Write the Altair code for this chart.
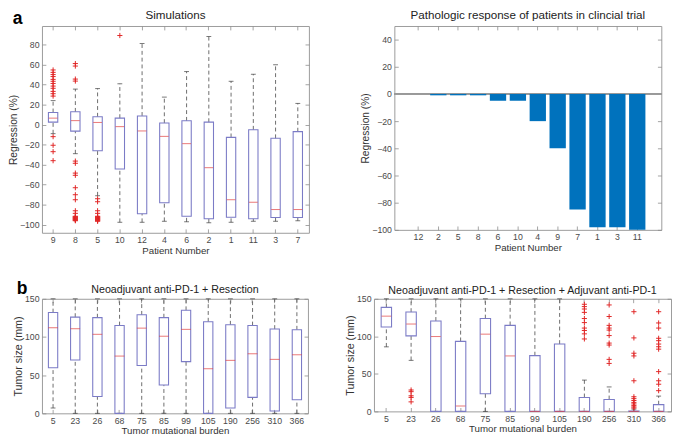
import altair as alt
import pandas as pd

FONT = "Liberation Sans"
BOX = "#7b7bc6"
MED = "#e03a3a"
WHIS = "#5a5a5a"
CAPC = "#3a3a3a"
OUTC = "#e02424"
FRAME = "#9a9a9a"
TICKC = "#8a8a8a"
LBL = "#4a4a4a"
TTL = "#333333"
BAR = "#0072BD"
PLUS = "M-1,0L1,0M0,-1L0,1"

# ---------------- a (left): Simulations ----------------
sim_patients = ["9", "8", "5", "10", "12", "4", "6", "2", "1", "11", "3", "7"]
sim_q1 = [2.5, -6.5, -26, -44.3, -89, -78, -91.5, -94, -92.4, -94, -92.7, -92.7]
sim_med = [6.5, 4.0, 2.2, -2.0, -6.3, -11.7, -19, -43, -75, -77.5, -84.8, -84.8]
sim_q3 = [12.2, 12.8, 7.9, 6.5, 8.7, 1.6, 3.8, 2.5, -12.7, -5.1, -13.6, -7]
sim_lo = [-9, -29, -71, -97.5, -97.5, -96.5, -97, -98, -97.5, -96.5, -96.5, -96]
sim_hi = [24, 35.5, 36, 40.8, 81, 27.5, 53, 88, 43.3, 50.3, 59.8, 21.2]
sim_outliers = {
    "9": [54.6, 52.2, 50, 48, 45.2, 43.3, 41.1, 38.5, 36.3, 33.2, 30.9, 28.5, -12, -20.6, -27, -36],
    "8": [61, 58.5, 45.5, 43.5, -36.4, -38.6, -48.4, -50.6, -63, -70, -75, -86, -88.6,
          -91.5, -92, -92.5, -93, -93.5, -94, -94.5, -95, -95.5, -96],
    "5": [-74, -77, -86, -88.6, -91.5, -92, -92.5, -93, -93.5, -94, -94.5, -95, -95.5, -96, -96.5],
    "10": [89],
}
sim_ticks = [-100, -80, -60, -40, -20, 0, 20, 40, 60, 80]

# ---------------- a (right): clinical trial ----------------
trial_patients = ["12", "2", "5", "8", "6", "10", "4", "9", "7", "1", "3", "11"]
trial_regression = [0, -1, -1, -1, -5, -5, -20, -40, -85, -98, -98, -100]
trial_ticks = [-100, -80, -60, -40, -20, 0, 20, 40]

# ---------------- b: tumor size by mutational burden ----------------
tmb = ["5", "23", "26", "68", "75", "85", "99", "105", "190", "256", "310", "366"]
size_ticks = [0, 50, 100, 150]

neo_q1 = [59.6, 69.9, 22, 0, 62.6, 37, 67.7, 0, 7, 20.9, 3, 17.9]
neo_med = [112, 110.8, 103.5, 75, 111.6, 101, 110, 58.4, 69.4, 78, 70.7, 76.7]
neo_q3 = [132, 126, 125.3, 115, 129, 125.3, 135, 120, 116, 115, 110.4, 109.5]
neo_lo = [7, 0, 0, 0, 0, 0, 0, 0, 0, 0, 0, 0]
neo_hi = [150, 150, 150, 150, 150, 150, 150, 150, 150, 150, 150, 150]
neo_outliers = {}

adj_q1 = [112.4, 100.6, 0, 0, 23.6, 0, 0, 0, 0, 0, 0, 0]
adj_med = [126.9, 116.4, 99.7, 7.2, 102.9, 73.9, 0, 0, 0, 0, 0, 0]
adj_q3 = [138.6, 132.3, 120.5, 93.3, 123.7, 114.6, 74.3, 89.7, 18.6, 15.9, 0.5, 9]
adj_lo = [86, 68, 0, 0, 0, 0, 0, 0, 0, 0, 0, 0]
adj_hi = [150, 150, 150, 150, 150, 150, 150, 150, 41.7, 32.6, 3, 20.4]
adj_outliers = {
    "23": [28.5, 26.3, 20.8, 18.6, 12.7],
    "190": [142.7, 139.6, 136.4, 131.9, 123.7, 118.3, 111, 107.8, 103.3, 96.5],
    "256": [141.8, 126.4, 114.6, 111, 108.3, 101, 91, 88.4, 69.3, 63.9],
    "310": [132.8, 97.9, 77.5, 73.9, 40.8, 19.5, 17, 14.5, 12, 10, 8, 6, 4.5],
    "366": [132.8, 117.8, 111, 97.4, 94.2, 89.7, 86.1, 82.9, 53, 40.8, 36.2, 27.6],
}


def ax(orient, title=None, labels=True, values=None, tsize=10):
    kw = dict(orient=orient, domain=False, grid=False, ticks=True, tickSize=4, offset=-4,
              tickColor=TICKC, tickWidth=0.8, labels=labels, labelColor=LBL, labelFont=FONT,
              labelFontSize=9, labelPadding=3, labelAngle=0, minExtent=0,
              titleColor=TTL, titleFont=FONT, titleFontSize=tsize, titleFontWeight="normal",
              titlePadding=1, title=title)
    if values is not None:
        kw["values"] = values
    return alt.Axis(**kw)


def text_layer(txt, x, y, size, bold=False, align="center"):
    # y is the top of the text box
    return alt.Chart(pd.DataFrame({"t": [txt]})).mark_text(
        text=txt, font=FONT, fontSize=size, fontWeight="bold" if bold else "normal",
        color="#000000" if bold else "#222222", align=align, baseline="top"
    ).encode(x=alt.value(x), y=alt.value(y))


def box_panel(cats, q1, med, q3, lo, hi, outliers, ydom, yvals, w, h, title, xtitle, ytitle,
              bw, ytsize=10, tsize=12, title_top=-16, letter=None):
    stats = pd.DataFrame({"cat": cats, "q1": q1, "med": med, "q3": q3, "lo": lo, "hi": hi})
    rows = [(c, v) for c, vals in outliers.items() for v in vals]
    outdf = pd.DataFrame(rows, columns=["cat", "v"])
    xs = alt.Scale(domain=cats, paddingInner=0.58, paddingOuter=0.29)
    ys = alt.Scale(domain=ydom, nice=False, zero=False)
    X0 = alt.X("cat:N", scale=xs, axis=None)

    def Y0(f):
        return alt.Y(f"{f}:Q", scale=ys, axis=None)

    base = alt.Chart(stats)
    layers = [
        base.mark_rule(color=WHIS, strokeWidth=0.9, strokeDash=[4, 3]).encode(x=X0, y=Y0("q3"), y2="hi"),
        base.mark_rule(color=WHIS, strokeWidth=0.9, strokeDash=[4, 3]).encode(x=X0, y=Y0("lo"), y2="q1"),
        base.mark_tick(color=CAPC, size=5, thickness=1).encode(x=X0, y=Y0("hi")),
        base.mark_tick(color=CAPC, size=5, thickness=1).encode(x=X0, y=Y0("lo")),
        base.mark_bar(fill="#ffffff", fillOpacity=0, stroke=BOX, strokeWidth=1.1).encode(
            x=alt.X("cat:N", scale=xs, axis=ax("bottom", xtitle)),
            y=alt.Y("q1:Q", scale=ys, axis=ax("left", ytitle, values=yvals, tsize=ytsize)),
            y2="q3"),
        base.mark_tick(color=MED, size=bw, thickness=1).encode(x=X0, y=Y0("med")),
        base.mark_point(opacity=0).encode(
            x=alt.X("cat:N", scale=xs, axis=ax("top", labels=False)),
            y=alt.Y("med:Q", scale=ys, axis=ax("right", labels=False, values=yvals))),
        text_layer(title, w / 2, title_top, tsize),
    ]
    if len(outdf):
        layers.append(alt.Chart(outdf).mark_point(shape=PLUS, size=28, color=OUTC, strokeWidth=1,
                                                  filled=False, opacity=1).encode(x=X0, y=Y0("v")))
    if letter is not None:
        layers.append(text_layer(letter[0], letter[1], letter[2], 18, bold=True, align="left"))
    return alt.layer(*layers).resolve_axis(x="independent", y="independent").properties(
        width=w, height=h)


sim_chart = box_panel(sim_patients, sim_q1, sim_med, sim_q3, sim_lo, sim_hi, sim_outliers,
                      [-108, 98.5], sim_ticks, 275, 213, "Simulations", "Patient Number",
                      "Regression (%)", 9, 10.5, 12, -16, ("a", -30, -16))

# bar chart
BW, BH = 275, 210
bar_df = pd.DataFrame({"patient": trial_patients, "reg": trial_regression})
bxs = alt.Scale(domain=trial_patients, paddingInner=0.18, paddingOuter=0.8)
bys = alt.Scale(domain=[-100, 50], nice=False, zero=False)
bbase = alt.Chart(bar_df)
bar_chart = alt.layer(
    bbase.mark_rule(color="#9a9a9a", strokeWidth=1).encode(y=alt.YDatum(0, scale=bys, axis=None)),
    bbase.mark_bar(color=BAR).encode(
        x=alt.X("patient:N", scale=bxs, axis=ax("bottom", "Patient Number")),
        y=alt.Y("reg:Q", scale=bys, axis=ax("left", "Regression (%)", values=trial_ticks, tsize=10.5)),
        y2=alt.datum(0)),
    bbase.mark_point(opacity=0).encode(
        x=alt.X("patient:N", scale=bxs, axis=ax("top", labels=False)),
        y=alt.Y("reg:Q", scale=bys, axis=ax("right", labels=False, values=trial_ticks))),
    text_layer("Pathologic response of patients in clincial trial", BW / 2, -16, 12),
).resolve_axis(x="independent", y="independent").properties(width=BW, height=BH)

neo_chart = box_panel(tmb, neo_q1, neo_med, neo_q3, neo_lo, neo_hi, neo_outliers,
                      [0, 150], size_ticks, 274, 118, "Neoadjuvant anti-PD-1 + Resection",
                      "Tumor mutational burden", "Tumor size (mm)", 10, 11, 11, -15,
                      ("b", -26, -19))

adj_chart = box_panel(tmb, adj_q1, adj_med, adj_q3, adj_lo, adj_hi, adj_outliers,
                      [0, 150], size_ticks, 306, 116,
                      "Neoadjuvant anti-PD-1 + Resection + Adjuvant anti-PD-1",
                      "Tumor mutational burden", "Tumor size (mm)", 10, 11, 11, -14)

chart = alt.vconcat(
    alt.hconcat(sim_chart, bar_chart, spacing=52),
    alt.hconcat(neo_chart, adj_chart, spacing=36),
    spacing=24,
).configure_view(stroke=FRAME, strokeWidth=1).properties(
    padding={"top": -6, "left": 0, "right": 0, "bottom": 0}, background="#ffffff")

chart.save("out.html", embed_options={"renderer": "svg", "actions": False})
